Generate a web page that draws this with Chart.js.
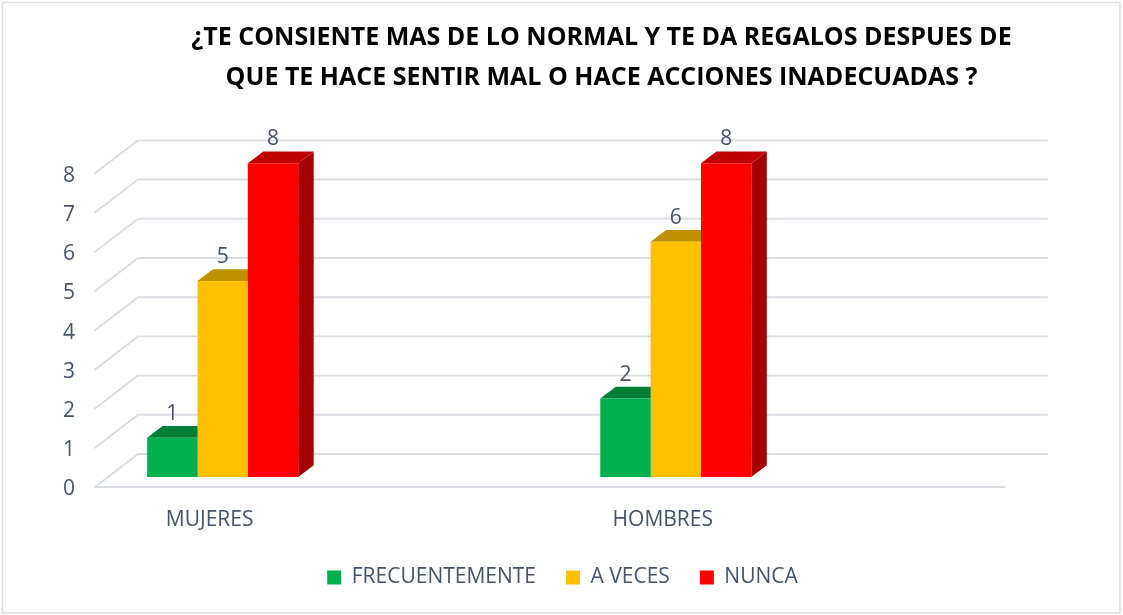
<!DOCTYPE html>
<html><head><meta charset="utf-8">
<script src="https://cdn.jsdelivr.net/npm/chart.js@4.4.1/dist/chart.umd.min.js"></script>
<style>html,body{margin:0;padding:0;background:#fff;}#wrap{width:1123px;height:615px;}</style>
</head><body><div id="wrap"><canvas id="c" width="1123" height="615"></canvas></div>
<script>
const titleLines = ['¿TE CONSIENTE MAS DE LO NORMAL Y TE DA REGALOS DESPUES DE', 'QUE TE HACE SENTIR MAL O HACE ACCIONES INADECUADAS ?'];
const categories = ['MUJERES', 'HOMBRES'];
const seriesNames = ['FRECUENTEMENTE', 'A VECES', 'NUNCA'];
const frecuentemente = [1, 2];
const aVeces = [5, 6];
const nunca = [8, 8];
const yTicks = [0, 1, 2, 3, 4, 5, 6, 7, 8];

const frontColors = ['#00B050', '#FFC000', '#FF0000'];
const topColors = ['#007F37', '#BF9000', '#C00000'];
const sideColors = ['#006E30', '#A67C00', '#A50000'];
const TEXT = '#44546A';
const GRID = '#D9DDE3';
const LABEL_SIZE = 21;

// oblique 3D geometry (pixels, relative to the plane of the bars' front faces)
const FRONT = {dx: -13, dy: 10};
const BACK = {dx: 30, dy: -23};
const BAR = {dx: 15.5, dy: -11.8};
const Y_LABEL_NUDGE = 2.5;
const X_MIN = -0.253, X_MAX = 1.753, Y_MAX = 8.5;
const PX_X = 909 / (X_MAX - X_MIN);
const PX_Y = 333 / Y_MAX;

const toPoints = arr => arr.map((v, i) => ({x: i, y: v}));
const seriesData = [frecuentemente, aVeces, nunca];

const threeD = {
  id: 'threeD',
  beforeDraw(chart) {
    const ctx = chart.ctx;
    ctx.save();
    ctx.strokeStyle = '#D9DEE6';
    ctx.lineWidth = 1.5;
    ctx.strokeRect(2.5, 2.5, 1117.5, 610.5);
    ctx.restore();
  },
  beforeDatasetsDraw(chart) {
    const ctx = chart.ctx;
    const ys = chart.scales.y;
    const L = chart.chartArea.left, R = chart.chartArea.right;
    ctx.save();
    ctx.strokeStyle = GRID;
    ctx.lineWidth = 1.9;
    ctx.lineCap = 'round';
    yTicks.forEach(v => {
      const p = ys.getPixelForValue(v);
      ctx.beginPath();
      ctx.moveTo(L + BACK.dx, p + BACK.dy);
      ctx.lineTo(R + BACK.dx, p + BACK.dy);
      ctx.moveTo(L + FRONT.dx, p + FRONT.dy);
      ctx.lineTo(L + BACK.dx, p + BACK.dy);
      ctx.stroke();
    });
    const p0 = ys.getPixelForValue(0);
    ctx.beginPath();
    ctx.moveTo(L + FRONT.dx, p0 + FRONT.dy);
    ctx.lineTo(R + FRONT.dx, p0 + FRONT.dy);
    ctx.stroke();
    // bar side and top faces
    const metas = chart.getSortedVisibleDatasetMetas();
    const bars = [];
    metas.forEach(m => m.data.forEach(el => bars.push({el, ds: m.index})));
    bars.sort((a, b) => a.el.x - b.el.x);
    bars.forEach(({el, ds}) => {
      const l = el.x - el.width / 2, r = el.x + el.width / 2, t = el.y, b = el.base;
      ctx.fillStyle = sideColors[ds];
      ctx.beginPath();
      ctx.moveTo(r, t); ctx.lineTo(r + BAR.dx, t + BAR.dy);
      ctx.lineTo(r + BAR.dx, b + BAR.dy); ctx.lineTo(r, b); ctx.closePath();
      ctx.fill();
      ctx.fillStyle = topColors[ds];
      ctx.beginPath();
      ctx.moveTo(l, t); ctx.lineTo(l + BAR.dx, t + BAR.dy);
      ctx.lineTo(r + BAR.dx, t + BAR.dy); ctx.lineTo(r, t); ctx.closePath();
      ctx.fill();
    });
    ctx.restore();
  },
  afterDatasetsDraw(chart) {
    const ctx = chart.ctx;
    ctx.save();
    ctx.fillStyle = TEXT;
    ctx.font = LABEL_SIZE + 'px "Open Sans"';
    ctx.textAlign = 'center';
    ctx.textBaseline = 'middle';
    chart.getSortedVisibleDatasetMetas().forEach(m => {
      m.data.forEach((el, i) => {
        const v = chart.data.datasets[m.index].data[i].y;
        ctx.fillText(String(v), el.x, el.y - 24);
      });
    });
    ctx.restore();
  }
};

new Chart(document.getElementById('c'), {
  type: 'bar',
  data: {
    datasets: seriesNames.map((name, k) => ({
      label: name,
      data: toPoints(seriesData[k]),
      backgroundColor: frontColors[k],
      borderWidth: 0,
      categoryPercentage: 1 / 3,
      barPercentage: 1,
      xAxisID: 'x',
      yAxisID: 'y'
    }))
  },
  options: {
    responsive: false,
    animation: false,
    devicePixelRatio: 1,
    layout: {padding: {left: 80, right: 0, top: 8, bottom: 17}},
    scales: {
      x: {
        type: 'linear', position: 'bottom', min: X_MIN, max: X_MAX, offset: false,
        afterBuildTicks: s => { s.ticks = categories.map((c, i) => ({value: i})); },
        ticks: {display: false},
        grid: {display: false, drawTicks: false},
        border: {display: false}
      },
      xLab: {
        type: 'linear', position: 'bottom', offset: false,
        min: X_MIN - FRONT.dx / PX_X, max: X_MAX - FRONT.dx / PX_X,
        afterBuildTicks: s => { s.ticks = categories.map((c, i) => ({value: i})); },
        afterFit: s => { s.height = 60; },
        ticks: {
          padding: 30, maxRotation: 0, autoSkip: false, color: TEXT,
          font: {family: 'Open Sans', size: LABEL_SIZE},
          callback: v => categories[v]
        },
        grid: {display: false, drawTicks: false},
        border: {display: false}
      },
      y: {
        type: 'linear', position: 'right', min: 0, max: Y_MAX,
        afterBuildTicks: s => { s.ticks = yTicks.map(v => ({value: v})); },
        afterFit: s => { s.width = 106; },
        ticks: {display: false},
        grid: {display: false, drawTicks: false},
        border: {display: false}
      },
      y2: {
        type: 'linear', position: 'left',
        min: (FRONT.dy + Y_LABEL_NUDGE) / PX_Y, max: Y_MAX + (FRONT.dy + Y_LABEL_NUDGE) / PX_Y,
        afterBuildTicks: s => { s.ticks = yTicks.map(v => ({value: v})); },
        afterFit: s => { s.width = 28; },
        ticks: {mirror: true, padding: -45, color: TEXT, font: {family: 'Open Sans', size: LABEL_SIZE}},
        grid: {display: false, drawTicks: false},
        border: {display: false}
      }
    },
    plugins: {
      title: {
        display: true, text: titleLines, color: '#000000',
        font: {family: 'Open Sans', weight: 'bold', size: 25, lineHeight: 40 / 25},
        padding: {top: 10, bottom: 45.75}
      },
      legend: {
        position: 'bottom', fullSize: false, maxHeight: 78,
        labels: {
          boxWidth: 14, boxHeight: 14, padding: 30, color: TEXT,
          font: {family: 'Open Sans', size: LABEL_SIZE}
        }
      },
      tooltip: {enabled: false}
    }
  },
  plugins: [threeD]
});
</script>
</body></html>
